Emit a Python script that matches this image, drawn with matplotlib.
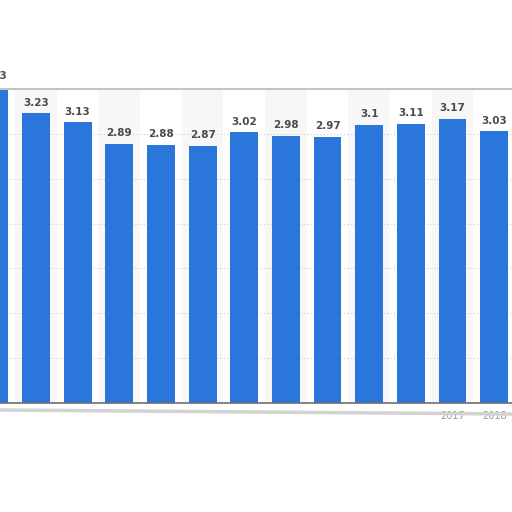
import matplotlib.pyplot as plt
import numpy as np

years = ['2006', '2007', '2008', '2009', '2010', '2011', '2012',
         '2013', '2014', '2015', '2016', '2017', '2018']
values = [3.53, 3.23, 3.13, 2.89, 2.88, 2.87, 3.02,
          2.98, 2.97, 3.1, 3.11, 3.17, 3.03]
shown_labels = ['2006', '2017', '2018']

fig = plt.figure(figsize=(5.12, 5.12), dpi=100)
ax = fig.add_axes([0, 109 / 512, 1, 314 / 512])

x = np.arange(len(years))

# alternating column bands
for i in x:
    if i % 2 == 1:
        ax.axvspan(i - 0.5, i + 0.5, color='#f7f7f7', zorder=0, lw=0)

ax.yaxis.grid(True, linestyle=(0, (1, 2)), color='#cfcfcf', linewidth=0.8)
ax.set_axisbelow(True)

bars = ax.bar(x, values, width=0.67, color='#2a76da', zorder=2)

for xi, v in zip(x, values):
    ax.annotate(f'{v:g}', (xi, v), xytext=(0, 4), textcoords='offset points',
                ha='center', va='bottom', fontsize=7.5, fontweight='bold',
                color='#4a4a4a', annotation_clip=False, clip_on=False)

ax.set_yticks(np.arange(0, 3.51, 0.5))
ax.set_yticklabels([])
ax.tick_params(axis='y', length=0)
ax.set_xticks(x)
ax.set_xticklabels([y if y in shown_labels else '' for y in years],
                   fontsize=7, color='#9a9a9a')
ax.tick_params(axis='x', length=0, pad=6)
# limits after ticks, set_xticks would widen them
ax.set_xlim(0.135, 12.43)
ax.set_ylim(0, 3.5)

for s in ['left', 'right']:
    ax.spines[s].set_visible(False)
ax.spines['top'].set_color('#c4c4c4')
ax.spines['top'].set_linewidth(1.5)
ax.spines['bottom'].set_color('#6e6e6e')
ax.spines['bottom'].set_linewidth(1.2)

# torn paper edge below the axis
fig.add_artist(plt.Line2D([0, 1], [1 - 410 / 512, 1 - 414 / 512],
                          color='#d2d2d2', linewidth=2.5))

fig.savefig('out.png', dpi=100)
